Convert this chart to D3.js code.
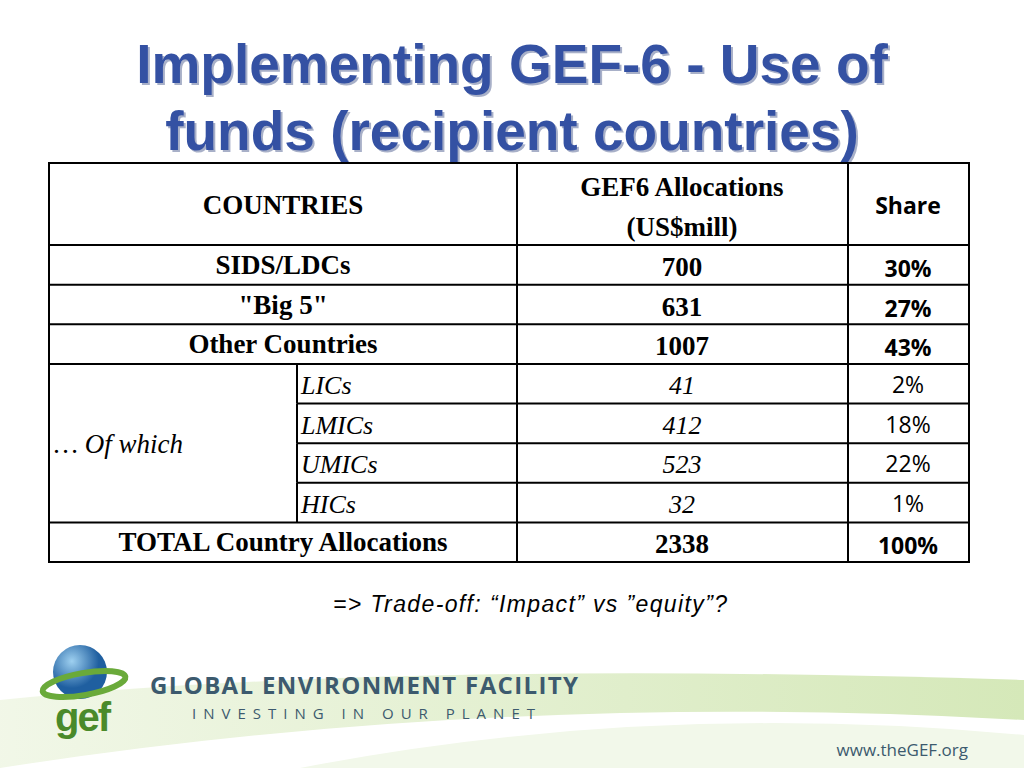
<!DOCTYPE html><html><head><meta charset="utf-8">
<script src="https://cdn.jsdelivr.net/npm/d3@7"></script>
<style>body{margin:0;background:#fff}</style></head><body>
<svg id="c" width="1024" height="768"></svg>
<script>
const categories=["SIDS/LDCs","\"Big 5\"","Other Countries","LICs","LMICs","UMICs","HICs","TOTAL Country Allocations"];
const allocations=["700","631","1007","41","412","523","32","2338"];
const shares=["30%","27%","43%","2%","18%","22%","1%","100%"];
const subRows=[false,false,false,true,true,true,true,false];
const svg=d3.select("#c");
const defs=svg.append("defs");
const g1=defs.append("linearGradient").attr("id","sw").attr("x1",0).attr("x2",1);
g1.append("stop").attr("offset",0).attr("stop-color","#e8f2d8");
g1.append("stop").attr("offset",1).attr("stop-color","#b9d98a");
svg.append("path").attr("d","M0,700 Q400,660 1024,680 L1024,768 L0,768 Z").attr("fill","url(#sw)").attr("opacity",0.6);
svg.append("path").attr("d","M0,768 Q500,690 1024,720 L1024,768 Z").attr("fill","#ffffff");
svg.append("path").attr("d","M300,768 Q650,700 1024,735 L1024,768 Z").attr("fill","#f2f8ea");
const title=["Implementing GEF-6 - Use of","funds (recipient countries)"];
title.forEach((t,i)=>{
 svg.append("text").attr("x",514).attr("y",85+i*67).attr("text-anchor","middle").attr("font-family","Liberation Sans, Arial").attr("font-weight","bold").attr("font-size",55).attr("fill","#a8b0c8").text(t);
 svg.append("text").attr("x",512).attr("y",83+i*67).attr("text-anchor","middle").attr("font-family","Liberation Sans, Arial").attr("font-weight","bold").attr("font-size",55).attr("fill","#3451a3").text(t);
});
const X=[49,297,517,848,969];
const y=d3.scaleBand().domain(d3.range(categories.length)).range([245,562]);
const tb=svg.append("g");
const serif="Liberation Serif, Times New Roman";
tb.append("rect").attr("x",49).attr("y",163).attr("width",920).attr("height",399).attr("fill","#fff").attr("stroke","#000").attr("stroke-width",2);
tb.append("text").attr("x",283).attr("y",214).attr("text-anchor","middle").attr("font-family",serif).attr("font-weight","bold").attr("font-size",27).text("COUNTRIES");
tb.append("text").attr("x",682).attr("y",196).attr("text-anchor","middle").attr("font-family",serif).attr("font-weight","bold").attr("font-size",27).text("GEF6 Allocations");
tb.append("text").attr("x",682).attr("y",236).attr("text-anchor","middle").attr("font-family",serif).attr("font-weight","bold").attr("font-size",27).text("(US$mill)");
tb.append("text").attr("x",908).attr("y",214).attr("text-anchor","middle").attr("font-family","Open Sans, Liberation Sans").attr("font-weight","bold").attr("font-size",23).text("Share");
[X[2],X[3]].forEach(x=>tb.append("line").attr("x1",x).attr("x2",x).attr("y1",163).attr("y2",562).attr("stroke","#000").attr("stroke-width",2));
categories.forEach((c,i)=>{
 const yy=y(i);
 const full=!subRows[i]||i===3;
 tb.append("line").attr("x1",full?X[0]:X[1]).attr("x2",X[4]).attr("y1",yy).attr("y2",yy).attr("stroke","#000").attr("stroke-width",2);
 if(subRows[i]){
  tb.append("line").attr("x1",X[1]).attr("x2",X[1]).attr("y1",yy).attr("y2",yy+y.bandwidth()).attr("stroke","#000").attr("stroke-width",2);
  tb.append("text").attr("x",301).attr("y",yy+30).attr("font-family",serif).attr("font-style","italic").attr("font-size",26).text(c);
  tb.append("text").attr("x",682).attr("y",yy+30).attr("text-anchor","middle").attr("font-family",serif).attr("font-style","italic").attr("font-size",26).text(allocations[i]);
  tb.append("text").attr("x",908).attr("y",yy+29).attr("text-anchor","middle").attr("font-family","Open Sans, Liberation Sans").attr("font-size",23).text(shares[i]);
 } else {
  tb.append("text").attr("x",283).attr("y",yy+29).attr("text-anchor","middle").attr("font-family",serif).attr("font-weight","bold").attr("font-size",27).text(c);
  tb.append("text").attr("x",682).attr("y",yy+31).attr("text-anchor","middle").attr("font-family",serif).attr("font-weight","bold").attr("font-size",27).text(allocations[i]);
  tb.append("text").attr("x",908).attr("y",yy+32).attr("text-anchor","middle").attr("font-family","Open Sans, Liberation Sans").attr("font-weight","bold").attr("font-size",23).text(shares[i]);
 }
});
tb.append("text").attr("x",54).attr("y",453).attr("font-family",serif).attr("font-style","italic").attr("font-size",27).text("… Of which");
svg.append("text").attr("x",530).attr("y",612).attr("text-anchor","middle").attr("font-family","Liberation Sans, Arial").attr("font-style","italic").attr("font-size",23).attr("textLength",394).text("=> Trade-off: “Impact” vs  ”equity”?");
const rg=defs.append("radialGradient").attr("id","gl").attr("cx","35%").attr("cy","30%");
rg.append("stop").attr("offset",0).attr("stop-color","#9ed0f0");
rg.append("stop").attr("offset",1).attr("stop-color","#1f5fa0");
svg.append("circle").attr("cx",80).attr("cy",672).attr("r",27).attr("fill","url(#gl)");
svg.append("ellipse").attr("cx",84).attr("cy",684).attr("rx",42).attr("ry",11).attr("fill","none").attr("stroke","#6aaa3a").attr("stroke-width",6).attr("transform","rotate(-10,84,684)");
svg.append("text").attr("x",82).attr("y",731).attr("text-anchor","middle").attr("font-family","Liberation Sans, Arial").attr("font-weight","bold").attr("font-size",40).attr("fill","#4a8a2a").attr("letter-spacing",-2).text("gef");
svg.append("text").attr("x",150).attr("y",694).attr("font-family","Open Sans, Liberation Sans").attr("font-weight","bold").attr("font-size",24).attr("fill","#3c5a6e").attr("textLength",428).text("GLOBAL ENVIRONMENT FACILITY");
svg.append("text").attr("x",192).attr("y",719).attr("font-family","Open Sans, Liberation Sans").attr("font-size",15).attr("fill","#3c5a6e").attr("textLength",343).text("INVESTING IN OUR PLANET");
svg.append("text").attr("x",968).attr("y",756).attr("text-anchor","end").attr("font-family","Open Sans, Liberation Sans").attr("font-size",17).attr("fill","#3c5a6e").text("www.theGEF.org");
</script></body></html>
